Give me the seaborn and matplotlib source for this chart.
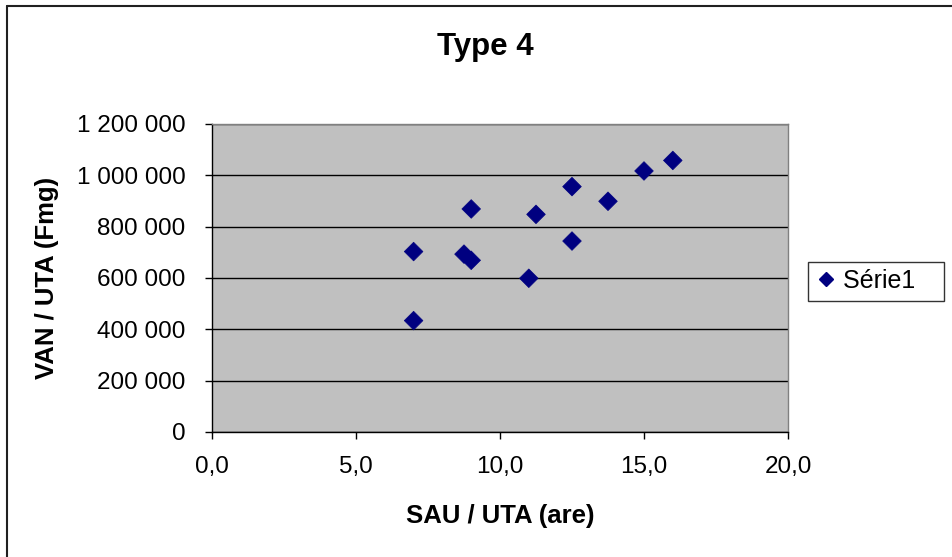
import matplotlib
matplotlib.use("Agg")
import matplotlib.pyplot as plt
import matplotlib.ticker as mticker
from matplotlib.lines import Line2D
import seaborn as sns
import pandas as pd

# Data
sau_uta = [7.0, 7.0, 8.75, 9.0, 9.0, 11.0, 11.25, 12.5, 12.5, 13.75, 15.0, 16.0]
van_uta = [434000, 703000, 693000, 669000, 869000, 599000, 848000, 956000, 744000, 899000, 1017000, 1058000]
series_name = "Série1"
title = "Type 4"
x_label = "SAU / UTA (are)"
y_label = "VAN / UTA (Fmg)"
x_ticks = [0, 5, 10, 15, 20]
y_ticks = [0, 200000, 400000, 600000, 800000, 1000000, 1200000]

df = pd.DataFrame({"x": sau_uta, "y": van_uta, "serie": series_name})

sns.set_theme(style="white")
plt.rcParams["font.family"] = ["Liberation Sans", "DejaVu Sans"]
plt.rcParams["text.color"] = "black"
plt.rcParams["axes.labelcolor"] = "black"

W, H = 952, 557
fig = plt.figure(figsize=(W / 100, H / 100), dpi=100)
fig.patch.set_facecolor("white")

left, right, top, bottom = 212, 788, 124, 432
ax = fig.add_axes([left / W, 1 - bottom / H, (right - left) / W, (bottom - top) / H])
ax.set_facecolor("#C0C0C0")

sns.scatterplot(data=df, x="x", y="y", hue="serie", palette=["#000080"],
                marker="D", s=90, edgecolor="#000080", linewidth=0.5,
                ax=ax, zorder=3, legend=False)

ax.set_xlim(0, 20)
ax.set_ylim(0, 1200000)
ax.set_xticks(x_ticks)
ax.set_yticks(y_ticks)
ax.xaxis.set_major_formatter(mticker.FuncFormatter(lambda v, p: f"{v:.1f}".replace(".", ",")))
ax.yaxis.set_major_formatter(mticker.FuncFormatter(lambda v, p: f"{int(v):,}".replace(",", " ")))

ax.grid(axis="y", color="black", linewidth=1.0)
ax.set_axisbelow(True)
ax.tick_params(axis="both", direction="out", length=5, width=1, color="black",
               labelsize=17.5, labelcolor="black", pad=4)
ax.tick_params(axis="x", pad=12)
ax.tick_params(axis="y", pad=14)
ax.tick_params(left=True, bottom=True)

for s in ["top", "right"]:
    ax.spines[s].set_color("#808080")
    ax.spines[s].set_linewidth(1.0)
for s in ["left", "bottom"]:
    ax.spines[s].set_color("black")
    ax.spines[s].set_linewidth(1.0)

ax.set_xlabel(x_label, fontsize=18.5, fontweight="bold", labelpad=19, color="black")
ax.set_ylabel(y_label, fontsize=18.5, fontweight="bold", labelpad=13, color="black")

fig.text(485 / W, 1 - 47 / H, title, fontsize=22.5, fontweight="bold",
         ha="center", va="center", color="black")

handle = Line2D([], [], linestyle="none", marker="D", markersize=7.5,
                markerfacecolor="#000080", markeredgecolor="#000080")
leg = fig.legend([handle], [series_name + "\u00a0\u00a0\u00a0"], loc="center left",
                 bbox_to_anchor=(808 / W, 1 - 281 / H), bbox_transform=fig.transFigure,
                 fontsize=18, frameon=True, fancybox=False, edgecolor="black",
                 handlelength=0.8, handletextpad=0.3, borderpad=0.3, borderaxespad=0,
                 labelcolor="black")
leg.get_frame().set_linewidth(1.0)

# outer chart border (left and top visible)
fig.add_artist(Line2D([6.5 / W, 6.5 / W], [0, 1 - 5.5 / H], transform=fig.transFigure,
                      color="#202020", linewidth=1.5))
fig.add_artist(Line2D([6.5 / W, 1], [1 - 5.5 / H, 1 - 5.5 / H], transform=fig.transFigure,
                      color="#202020", linewidth=1.5))

fig.savefig("out.png", dpi=100, facecolor="white")
